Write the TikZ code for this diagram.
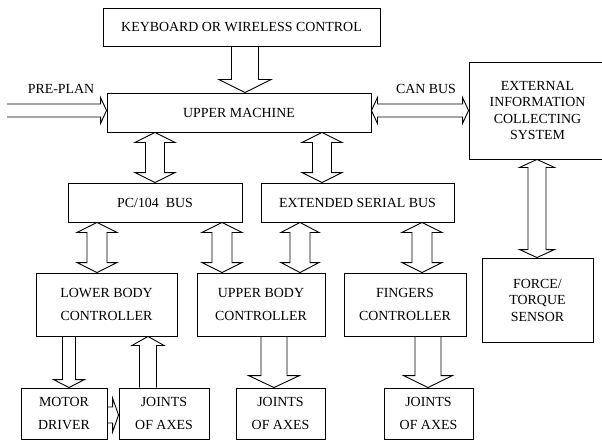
\documentclass[tikz,border=0pt]{standalone}
\usepackage{fontspec}
\setmainfont{Liberation Serif}
\usetikzlibrary{calc}

% vertical block arrow: tail #1, tip #2, axis x=#3, shaft/head half width #4/#5, head length #6
\newcommand{\vblock}[6]{%
	\coordinate (ax) at (#3,0);
	\draw[hollow] ($(#1 -| ax)+({-(#4)},0)$) -- ($(#2 -| ax)+({-(#4)},{-(#6)})$) -- ++({#4-(#5)},0) -- (#2 -| ax)
		-- ++(#5,{-(#6)}) -- ++({#4-(#5)},0) -- ($(#1 -| ax)+(#4,0)$);}
% vertical double block arrow: top tip #1, bottom tip #2
\newcommand{\vdouble}[6]{%
	\coordinate (ax) at (#3,0);
	\draw[hollow] (#1 -| ax) -- ++(#5,#6) -- ++({#4-(#5)},0) -- ($(#2 -| ax)+(#4,{-(#6)})$) -- ++({#5-(#4)},0) -- (#2 -| ax)
		-- ++({-(#5)},{-(#6)}) -- ++({#5-(#4)},0) -- ($(#1 -| ax)+({-(#4)},#6)$) -- ++({#4-(#5)},0) -- cycle;}
% horizontal block arrow: tail #1, tip #2, axis y=#3
\newcommand{\hblock}[6]{%
	\coordinate (ay) at (0,#3);
	\draw[hollow] ($(#1 |- ay)+(0,{-(#4)})$) -- ($(#2 |- ay)+({-(#6)},{-(#4)})$) -- ++(0,{#4-(#5)}) -- (#2 |- ay)
		-- ++({-(#6)},#5) -- ++(0,{#4-(#5)}) -- ($(#1 |- ay)+(0,#4)$);}
% horizontal double block arrow: left tip #1, right tip #2
\newcommand{\hdouble}[6]{%
	\coordinate (ay) at (0,#3);
	\draw[hollow] (#1 |- ay) -- ++(#6,{-(#5)}) -- ++(0,{#5-(#4)}) -- ($(#2 |- ay)+({-(#6)},{-(#4)})$) -- ++(0,{#4-(#5)}) -- (#2 |- ay)
		-- ++({-(#6)},#5) -- ++(0,{#4-(#5)}) -- ($(#1 |- ay)+(#6,#4)$) -- ++(0,{#5-(#4)}) -- cycle;}

\begin{document}
\begin{tikzpicture}[x=1pt, y=-1pt, line width=0.9pt,
		box/.style={draw, align=center, inner sep=0pt, font=\fontsize{13.9}{16.5}\selectfont},
		widebox/.style={box, font=\fontsize{13.9}{22.5}\selectfont},
		hollow/.style={draw, line join=miter}]
	\useasboundingbox (0,0) rectangle (602,441);

	\draw (241.5,27) 	node[box, minimum width=277, minimum height=38] 	(keyboard) 	{KEYBOARD OR WIRELESS CONTROL};
	\draw (239,112.5) 	node[box, minimum width=264, minimum height=39] 	(upper) 	{UPPER MACHINE};
	\draw (537.5,110.5) 	node[box, minimum width=137, minimum height=97] 	(external) 	{EXTERNAL\\INFORMATION\\COLLECTING\\SYSTEM};
	\draw (155,202.5) 	node[box, minimum width=174, minimum height=39] 	(pc) 		{PC/104\ \ BUS};
	\draw (357.5,202.5) 	node[box, minimum width=193, minimum height=39] 	(esb) 		{EXTENDED SERIAL BUS};
	\draw (106.5,304.5) 	node[widebox, minimum width=141, minimum height=63] 	(lower) 	{LOWER BODY\\CONTROLLER};
	\draw (261,304.5) 	node[widebox, minimum width=128, minimum height=63] 	(upperbody) 	{UPPER BODY\\CONTROLLER};
	\draw (405,304.5) 	node[widebox, minimum width=122, minimum height=63] 	(fingers) 	{FINGERS\\CONTROLLER};
	\draw (537.5,300) 	node[box, minimum width=111, minimum height=84] 	(force) 	{FORCE/\\TORQUE\\SENSOR};
	\draw (64,413.5) 	node[widebox, minimum width=86, minimum height=51] 	(motor) 	{MOTOR\\DRIVER};
	\draw (164,413.5) 	node[widebox, minimum width=90, minimum height=51] 	(joints_a) 	{JOINTS\\OF AXES};
	\draw (280.5,413.5) 	node[widebox, minimum width=89, minimum height=51] 	(joints_b) 	{JOINTS\\OF AXES};
	\draw (428.5,413.5) 	node[widebox, minimum width=89, minimum height=51] 	(joints_c) 	{JOINTS\\OF AXES};

	\draw (61,89) 		node[font=\fontsize{13.9}{16.5}\selectfont] 	(preplan_lbl) 	{PRE-PLAN};
	\draw (426,89) 		node[font=\fontsize{13.9}{16.5}\selectfont] 	(can_lbl) 	{CAN BUS};
	\coordinate (preplan) at (7,110.5);

	\vblock{keyboard.south}{upper.north}{245}{13.5}{26}{13}
	\hblock{preplan}{upper.west}{110.5}{6.5}{13}{6}
	\hdouble{upper.east}{external.west}{110.5}{6.5}{13}{6}
	\vdouble{upper.south}{pc.north}{155}{9.5}{20}{10}
	\vdouble{upper.south}{esb.north}{322}{9.5}{20}{10}
	\vdouble{pc.south}{lower.north}{97}{10}{20}{10}
	\vdouble{pc.south}{upperbody.north}{222}{10}{20}{10}
	\vdouble{esb.south}{upperbody.north}{300}{10}{19}{10}
	\vdouble{esb.south}{fingers.north}{422}{10}{20}{10}
	\vdouble{external.south}{force.north}{537}{9}{17.5}{8}
	\vblock{lower.south}{motor.north}{69}{6.5}{15.5}{8}
	\vblock{joints_a.north}{lower.south}{148}{8.5}{16}{-9}
	\vblock{upperbody.south}{joints_b.north}{274}{13}{25.5}{12}
	\vblock{fingers.south}{joints_c.north}{428}{13}{24.5}{12}
	\hblock{motor.east}{joints_a.west}{415}{8}{17}{6}
\end{tikzpicture}
\end{document}
